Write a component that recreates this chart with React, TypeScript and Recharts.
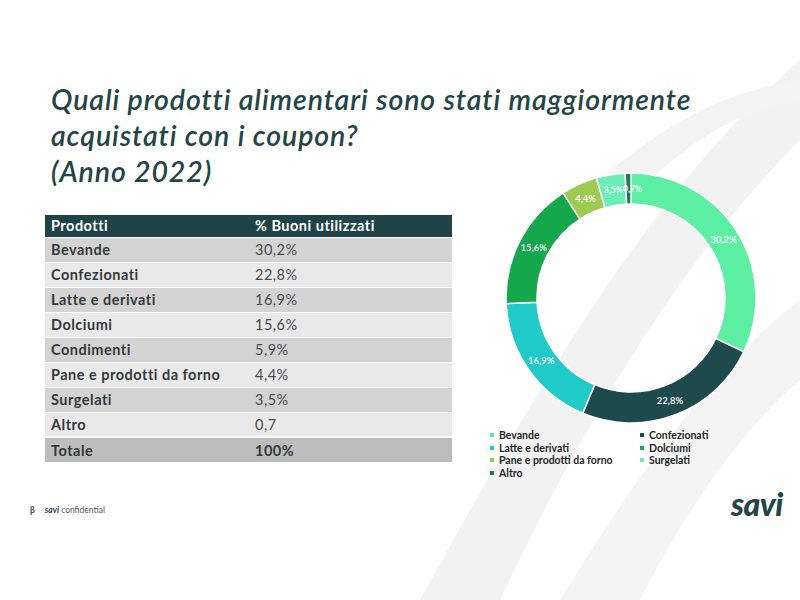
import React from "react";
import { PieChart, Pie, Cell } from "recharts";

const products = [
  "Bevande",
  "Confezionati",
  "Latte e derivati",
  "Dolciumi",
  "Condimenti",
  "Pane e prodotti da forno",
  "Surgelati",
  "Altro",
];
const tableValues = ["30,2%", "22,8%", "16,9%", "15,6%", "5,9%", "4,4%", "3,5%", "0,7"];

const pieNames = [
  "Bevande",
  "Confezionati",
  "Latte e derivati",
  "Dolciumi",
  "Pane e prodotti da forno",
  "Surgelati",
  "Altro",
];
const pieValues = [30.2, 22.8, 16.9, 15.6, 4.4, 3.5, 0.7];
const pieColors = ["#5cefa3", "#1e4a4d", "#1fcac8", "#14a74b", "#9dcb52", "#6aedb6", "#1b7c55"];

const dark = "#234547";
const font = "Lato, 'Open Sans', sans-serif";

const pieData = pieNames.map((name, i) => ({ name, value: pieValues[i] }));

const RADIAN = Math.PI / 180;
function renderLabel(props: any) {
  const { cx, cy, midAngle, innerRadius, outerRadius, value } = props;
  const r = (innerRadius + outerRadius) / 2;
  // tiny slice: nudge a bit so it does not sit fully on its neighbour
  const nudge = value < 1 ? 4 : 0;
  const x = cx + r * Math.cos(-midAngle * RADIAN) + nudge;
  const y = cy + r * Math.sin(-midAngle * RADIAN);
  return (
    <text
      x={x}
      y={y}
      fill="#ffffff"
      fontSize={value < 4 ? 8.5 : 9.5}
      fontFamily={font}
      fontWeight={600}
      textAnchor="middle"
      dominantBaseline="central"
    >
      {String(value).replace(".", ",")}%
    </text>
  );
}

export default function App() {
  return (
    <div
      style={{
        position: "absolute",
        left: 0,
        top: 0,
        width: 800,
        height: 600,
        background: "#ffffff",
        overflow: "hidden",
        fontFamily: font,
      }}
    >
      {/* faint background swooshes */}
      <svg width={800} height={600} style={{ position: "absolute", left: 0, top: 0 }}>
        <path d="M420 600 C 520 420, 640 200, 800 60 L 800 140 C 680 260, 580 430, 500 600 Z" fill="#f2f2f2" />
        <path d="M560 600 C 640 470, 720 360, 800 300 L 800 380 C 740 430, 680 520, 640 600 Z" fill="#f4f4f4" />
        <path d="M600 180 C 680 110, 740 90, 800 80 L 800 100 C 740 110, 690 140, 640 190 Z" fill="#f3f3f3" />
      </svg>

      <div
        style={{
          position: "absolute",
          left: 51,
          top: 81,
          fontSize: 28.5,
          fontStyle: "italic",
          fontWeight: 600,
          color: dark,
          lineHeight: "36px",
          letterSpacing: 0.9,
          whiteSpace: "nowrap",
        }}
      >
        Quali prodotti alimentari sono stati maggiormente
        <br />
        acquistati con i coupon?
        <br />
        (Anno 2022)
      </div>

      <table
        style={{
          position: "absolute",
          left: 45,
          top: 215,
          width: 407,
          borderCollapse: "collapse",
          fontSize: 14.5,
          letterSpacing: 0.5,
        }}
      >
        <tbody>
          <tr style={{ background: "#1f4346", color: "#ffffff", height: 22 }}>
            <td style={{ paddingLeft: 6, fontWeight: 700, width: 202 }}>Prodotti</td>
            <td style={{ fontWeight: 700 }}>% Buoni utilizzati</td>
          </tr>
          {products.map((p, i) => (
            <tr
              key={p}
              style={{
                background: i % 2 === 0 ? "#d3d3d3" : "#e9e9e9",
                height: 25,
                borderTop: "1px solid #ffffff",
              }}
            >
              <td style={{ paddingLeft: 6, fontWeight: 700, color: "#333a3a" }}>{p}</td>
              <td style={{ color: "#4a4a4a" }}>{tableValues[i]}</td>
            </tr>
          ))}
          <tr style={{ background: "#bdbdbd", height: 25, borderTop: "2px solid #ffffff" }}>
            <td style={{ paddingLeft: 6, fontWeight: 700, color: "#333a3a" }}>Totale</td>
            <td style={{ fontWeight: 700, color: "#333a3a" }}>100%</td>
          </tr>
        </tbody>
      </table>

      <div style={{ position: "absolute", left: 476, top: 143 }}>
        <PieChart width={300} height={300}>
          <Pie
            data={pieData}
            dataKey="value"
            nameKey="name"
            cx={150}
            cy={150}
            innerRadius={94}
            outerRadius={125}
            startAngle={90}
            endAngle={-270}
            stroke="#ffffff"
            strokeWidth={1.5}
            label={renderLabel}
            labelLine={false}
            isAnimationActive={false}
          >
            {pieData.map((d, i) => (
              <Cell key={d.name} fill={pieColors[i]} />
            ))}
          </Pie>
        </PieChart>
      </div>

      <div
        style={{
          position: "absolute",
          left: 490,
          top: 429,
          width: 300,
          display: "grid",
          gridTemplateColumns: "150px 150px",
          fontSize: 10.5,
          lineHeight: "12.5px",
          color: "#1e2626",
          fontWeight: 700,
        }}
      >
        {pieNames.map((name, idx) => (
          <div key={name} style={{ display: "flex", alignItems: "center", whiteSpace: "nowrap" }}>
            <span
              style={{
                display: "inline-block",
                width: 4,
                height: 4,
                background: pieColors[idx],
                marginRight: 5,
              }}
            />
            {name}
          </div>
        ))}
      </div>

      <div
        style={{
          position: "absolute",
          left: 30,
          top: 505,
          fontSize: 8.5,
          color: "#555",
          whiteSpace: "nowrap",
        }}
      >
        <span style={{ fontWeight: 700, color: dark, marginRight: 10 }}>β</span>
        <span style={{ fontWeight: 700, fontStyle: "italic", color: dark }}>savi</span> confidential
      </div>

      <div
        style={{
          position: "absolute",
          left: 731,
          top: 484,
          fontSize: 32,
          fontWeight: 900,
          fontStyle: "italic",
          color: dark,
          letterSpacing: -0.5,
        }}
      >
        savi
      </div>
    </div>
  );
}
